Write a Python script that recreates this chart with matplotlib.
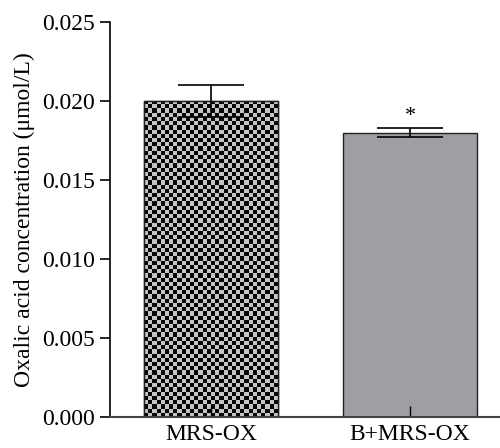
import numpy as np
import matplotlib
matplotlib.use("Agg")
import matplotlib.pyplot as plt

groups = ["MRS-OX", "B+MRS-OX"]
means = [0.0200, 0.0180]
errors = [0.0010, 0.0003]
marks = ["", "*"]

plt.rcParams["font.family"] = ["Liberation Serif", "DejaVu Serif"]

fig = plt.figure(figsize=(5.0, 4.48), dpi=100)
ax = fig.add_axes([0.22, 0.069, 0.78, 0.882])

x = np.arange(len(groups))
bars = ax.bar(x, means, width=0.673, color=["#c8c8c8", "#9e9ea3"],
              edgecolor="#222222", linewidth=1.0, zorder=1)
ax.errorbar(x, means, yerr=errors, fmt="none", ecolor="black",
            elinewidth=1.2, capsize=24, capthick=1.2, zorder=3)

ax.set_xlim(-0.508, 1.452)
ax.set_ylim(0, 0.025)

# checkerboard fill on the first bar (clipped image, ~4 px cells)
b = bars[0]
x0, y0 = b.get_x(), b.get_y()
x1, y1 = x0 + b.get_width(), y0 + b.get_height()
p0 = ax.transData.transform((x0, y0))
p1 = ax.transData.transform((x1, y1))
nx = max(1, int(round((p1[0] - p0[0]) / 4.2)))
ny = max(1, int(round((p1[1] - p0[1]) / 4.2)))
checker = (np.add.outer(np.arange(ny), np.arange(nx)) % 2).astype(float)
img = ax.imshow(checker, cmap=matplotlib.colors.ListedColormap(["#050505", "#c4c4c4"]),
                extent=(x0, x1, y0, y1), interpolation="nearest",
                aspect="auto", zorder=1.5)
img.set_clip_path(b)
ax.add_patch(plt.Rectangle((x0, y0), b.get_width(), b.get_height(),
                           fill=False, edgecolor="#222222", linewidth=1.0, zorder=1.6))

for xi, m, e, s in zip(x, means, errors, marks):
    if s:
        ax.text(xi, m + e + 0.0001, s, ha="center", va="bottom", fontsize=16)

ax.set_xticks(x)
ax.set_xticklabels(groups, fontsize=17)
ax.set_yticks(np.arange(0, 0.0251, 0.005))
ax.set_yticklabels([f"{v:.3f}" for v in np.arange(0, 0.0251, 0.005)], fontsize=17)
ax.tick_params(axis="y", direction="out", length=7, width=1.2, pad=4)
ax.tick_params(axis="x", direction="in", length=8, width=1.0, pad=5)
ax.set_ylabel("Oxalic acid concentration (μmol/L)", fontsize=17, labelpad=5)

for side in ["top", "right"]:
    ax.spines[side].set_visible(False)
ax.spines["left"].set_linewidth(1.2)
ax.spines["bottom"].set_linewidth(1.5)
ax.spines["bottom"].set_color("#444444")

fig.savefig("out.png", dpi=100)
